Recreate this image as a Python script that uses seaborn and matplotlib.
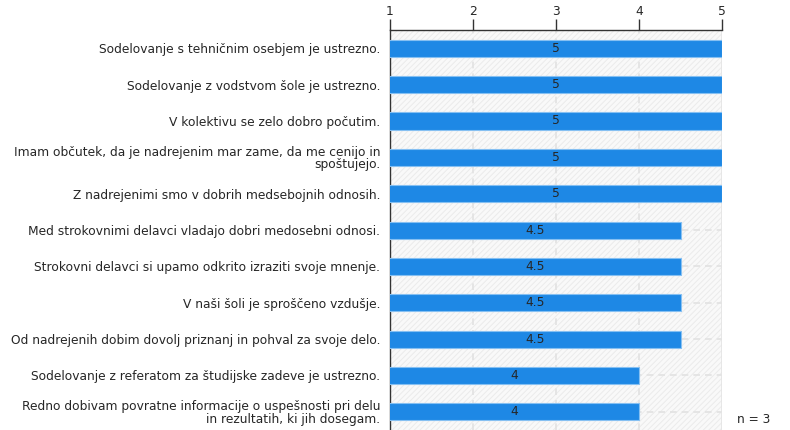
import matplotlib
matplotlib.use("Agg")
import matplotlib.pyplot as plt
import seaborn as sns
import pandas as pd
from matplotlib.patches import Rectangle

statements = [
    "Sodelovanje s tehničnim osebjem je ustrezno.",
    "Sodelovanje z vodstvom šole je ustrezno.",
    "V kolektivu se zelo dobro počutim.",
    "Imam občutek, da je nadrejenim mar zame, da me cenijo in\nspoštujejo.",
    "Z nadrejenimi smo v dobrih medsebojnih odnosih.",
    "Med strokovnimi delavci vladajo dobri medosebni odnosi.",
    "Strokovni delavci si upamo odkrito izraziti svoje mnenje.",
    "V naši šoli je sproščeno vzdušje.",
    "Od nadrejenih dobim dovolj priznanj in pohval za svoje delo.",
    "Sodelovanje z referatom za študijske zadeve je ustrezno.",
    "Redno dobivam povratne informacije o uspešnosti pri delu\nin rezultatih, ki jih dosegam.",
]
scores = [5, 5, 5, 5, 5, 4.5, 4.5, 4.5, 4.5, 4, 4]
x_ticks = [1, 2, 3, 4, 5]
sample_note = "n = 3"

df = pd.DataFrame({"statement": statements, "score": scores})

sns.set_style("white")
plt.rcParams["font.family"] = ["DejaVu Sans"]
plt.rcParams["hatch.color"] = "#ebebeb"
plt.rcParams["hatch.linewidth"] = 0.7

FS = 8.8
TXT = "#262626"

fig = plt.figure(figsize=(7.9, 4.3), dpi=100)
ax = fig.add_axes([0.4937, 0.0, 0.4203, 0.930])

# hatched plot background
bg = Rectangle((0, 0), 1, 1, transform=ax.transAxes, facecolor="#f9f9f9",
               edgecolor="#ebebeb", hatch="//////", linewidth=0, zorder=0)
ax.add_patch(bg)

sns.barplot(data=df, y="statement", x="score", orient="h", ax=ax,
            color="#1e88e5", saturation=1, width=0.47,
            edgecolor="#86c0f2", linewidth=0.8, zorder=3)

ax.set_xlim(1, 5)
ax.set_ylim(len(statements) - 0.5, -0.5)

# dashed grid
for xv in x_ticks[1:-1]:
    ax.axvline(xv, color="#e2e2e2", lw=1.2, ls=(0, (4, 3)), zorder=1)
for i in range(len(statements)):
    ax.axhline(i, color="#e2e2e2", lw=1.2, ls=(0, (4, 3)), zorder=1)
ax.axvline(5, color="#e4e4e4", lw=1.2, zorder=1)

# value labels centred on visible part of bars
for i, v in enumerate(scores):
    ax.text((1 + v) / 2, i, f"{v:g}", ha="center", va="center",
            fontsize=FS, color=TXT, zorder=4)

ax.xaxis.tick_top()
ax.set_xticks(x_ticks)
ax.set_xticklabels([str(t) for t in x_ticks])
ax.tick_params(axis="x", direction="out", length=8, width=1, color="#333333",
               labelsize=FS, labelcolor=TXT, pad=0.5)
ax.tick_params(axis="y", direction="out", length=5, width=1, color="#333333",
               labelsize=FS, labelcolor=TXT, pad=2)
for lbl in ax.get_yticklabels():
    lbl.set_linespacing(0.95)
ax.set_xlabel("")
ax.set_ylabel("")

for side in ["right", "bottom"]:
    ax.spines[side].set_visible(False)
ax.spines["top"].set_color("#333333")
ax.spines["left"].set_color("#333333")
ax.spines["top"].set_linewidth(1)
ax.spines["left"].set_linewidth(1)

fig.text(0.975, 0.01, sample_note, ha="right", va="bottom", fontsize=FS,
         color=TXT)

fig.savefig("out.png", dpi=100)
